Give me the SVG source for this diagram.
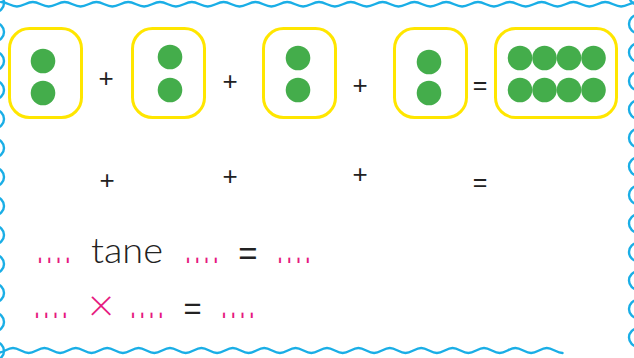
<svg xmlns="http://www.w3.org/2000/svg" width="634" height="358" viewBox="0 0 634 358">
<style>
.border{fill:none;stroke:#1aaee6;stroke-width:2.4;stroke-linecap:round}
.box{fill:none;stroke:#ffe600;stroke-width:3}
.dot{fill:#44ad4b}
.op{font-family:"Liberation Sans",Arial,sans-serif;fill:#222;text-anchor:middle}
.pink{font-family:"Liberation Sans",Arial,sans-serif;fill:#e6197f;font-size:20px;letter-spacing:3.7px}
.word{font-family:Lato,"Liberation Sans",sans-serif;font-weight:300;fill:#222}
.times{font-family:Lato,"Liberation Sans",sans-serif;font-weight:300;fill:#e6197f;text-anchor:middle}
</style>
<rect width="634" height="358" fill="#fff"/>
<g id="border">
<path class="border" d="M1 2c5.8 0 10.1 4.5 15.9 4.5s10.1-4.5 15.9-4.5s10.1 4.5 15.9 4.5s10.1-4.5 15.9-4.5s10.1 4.5 15.9 4.5s10.1-4.5 15.9-4.5s10.1 4.5 15.9 4.5s10.1-4.5 15.9-4.5s10.1 4.5 15.9 4.5s10.1-4.5 15.9-4.5s10.1 4.5 15.9 4.5s10.1-4.5 15.9-4.5s10.1 4.5 15.9 4.5s10.1-4.5 15.9-4.5s10.1 4.5 15.9 4.5s10.1-4.5 15.9-4.5s10.1 4.5 15.9 4.5s10.1-4.5 15.9-4.5s10.1 4.5 15.9 4.5s10.1-4.5 15.9-4.5s10.1 4.5 15.9 4.5s10.1-4.5 15.9-4.5s10.1 4.5 15.9 4.5s10.1-4.5 15.9-4.5s10.1 4.5 15.9 4.5s10.1-4.5 15.9-4.5s10.1 4.5 15.9 4.5s10.1-4.5 15.9-4.5s10.1 4.5 15.9 4.5s10.1-4.5 15.9-4.5s10.1 4.5 15.9 4.5s10.1-4.5 15.9-4.5s10.1 4.5 15.9 4.5s10.1-4.5 15.9-4.5s10.1 4.5 15.9 4.5s10.1-4.5 15.9-4.5s10.1 4.5 15.9 4.5s10.1-4.5 15.9-4.5s10.1 4.5 15.9 4.5s10.1-4.5 15.9-4.5"/>
<path class="border" d="M-2.7 353c5.7 0 10-5 15.7-5s10 5 15.7 5s10-5 15.7-5s10 5 15.7 5s10-5 15.7-5s10 5 15.7 5s10-5 15.7-5s10 5 15.7 5s10-5 15.7-5s10 5 15.7 5s10-5 15.7-5s10 5 15.7 5s10-5 15.7-5s10 5 15.7 5s10-5 15.7-5s10 5 15.7 5s10-5 15.7-5s10 5 15.7 5s10-5 15.7-5s10 5 15.7 5s10-5 15.7-5s10 5 15.7 5s10-5 15.7-5s10 5 15.7 5s10-5 15.7-5s10 5 15.7 5s10-5 15.7-5s10 5 15.7 5s10-5 15.7-5s10 5 15.7 5s10-5 15.7-5s10 5 15.7 5s10-5 15.7-5s10 5 15.7 5s10-5 15.7-5s10 5 15.7 5"/>
<path class="border" d="M-5 -6a9 9 0 0 1 0 18m0 11a9 9 0 0 1 0 18m0 11a9 9 0 0 1 0 18m0 11a9 9 0 0 1 0 18m0 11a9 9 0 0 1 0 18m0 11a9 9 0 0 1 0 18m0 11a9 9 0 0 1 0 18m0 11a9 9 0 0 1 0 18m0 11a9 9 0 0 1 0 18m0 11a9 9 0 0 1 0 18m0 11a9 9 0 0 1 0 18m0 11a9 9 0 0 1 0 18m0 11a9 9 0 0 1 0 18"/>
<path class="border" d="M638 -13.5a9 9 0 0 0 0 18m0 10.5a9 9 0 0 0 0 18m0 10.5a9 9 0 0 0 0 18m0 10.5a9 9 0 0 0 0 18m0 10.5a9 9 0 0 0 0 18m0 10.5a9 9 0 0 0 0 18m0 10.5a9 9 0 0 0 0 18m0 10.5a9 9 0 0 0 0 18m0 10.5a9 9 0 0 0 0 18m0 10.5a9 9 0 0 0 0 18m0 10.5a9 9 0 0 0 0 18m0 10.5a9 9 0 0 0 0 18m0 10.5a9 9 0 0 0 0 18"/>
</g>
<g id="box1">
<rect class="box" x="9.5" y="28.5" width="72" height="89" rx="20"/>
<circle class="dot" cx="43" cy="61" r="12.3"/>
<circle class="dot" cx="43" cy="93" r="12.3"/>
</g>
<g id="box2">
<rect class="box" x="132.5" y="28.5" width="72" height="89" rx="20"/>
<circle class="dot" cx="170" cy="57" r="12.3"/>
<circle class="dot" cx="170" cy="90" r="12.3"/>
</g>
<g id="box3">
<rect class="box" x="263.5" y="28.5" width="72" height="89" rx="20"/>
<circle class="dot" cx="298" cy="58" r="12.3"/>
<circle class="dot" cx="298" cy="90" r="12.3"/>
</g>
<g id="box4">
<rect class="box" x="394.5" y="28.5" width="72" height="89" rx="20"/>
<circle class="dot" cx="429" cy="62" r="12.3"/>
<circle class="dot" cx="429" cy="93" r="12.3"/>
</g>
<g id="box5">
<rect class="box" x="495.5" y="28.5" width="121" height="89" rx="20"/>
<circle class="dot" cx="520" cy="58" r="12.3"/>
<circle class="dot" cx="544.5" cy="58" r="12.3"/>
<circle class="dot" cx="569" cy="58" r="12.3"/>
<circle class="dot" cx="593.5" cy="58" r="12.3"/>
<circle class="dot" cx="520" cy="90" r="12.3"/>
<circle class="dot" cx="544.5" cy="90" r="12.3"/>
<circle class="dot" cx="569" cy="90" r="12.3"/>
<circle class="dot" cx="593.5" cy="90" r="12.3"/>
</g>
<g id="connectors"/>
<g id="operators">
<text class="op" x="106" y="87" font-size="26">+</text>
<text class="op" x="230" y="90" font-size="26">+</text>
<text class="op" x="360" y="94" font-size="26">+</text>
<text class="op" x="480" y="93.7" font-size="25">=</text>
<text class="op" x="107" y="189" font-size="26">+</text>
<text class="op" x="230" y="185" font-size="26">+</text>
<text class="op" x="360" y="183" font-size="26">+</text>
<text class="op" x="480" y="190.7" font-size="25">=</text>
</g>
<g id="row3">
<text class="pink" transform="translate(37.2,263) scale(1,2.5)">....</text>
<text class="word" x="91" y="263" font-size="35" textLength="72" lengthAdjust="spacingAndGlyphs">tane</text>
<text class="pink" transform="translate(185.2,263) scale(1,2.5)">....</text>
<text class="op" x="248" y="264.6" font-size="33">=</text>
<text class="pink" transform="translate(277.2,263) scale(1,2.5)">....</text>
</g>
<g id="row4">
<text class="pink" transform="translate(34.2,318) scale(1,2.5)">....</text>
<text class="times" x="101" y="321" font-size="46">×</text>
<text class="pink" transform="translate(130.2,318) scale(1,2.5)">....</text>
<text class="op" x="192.5" y="319" font-size="31">=</text>
<text class="pink" transform="translate(221.2,318) scale(1,2.5)">....</text>
</g>
</svg>
